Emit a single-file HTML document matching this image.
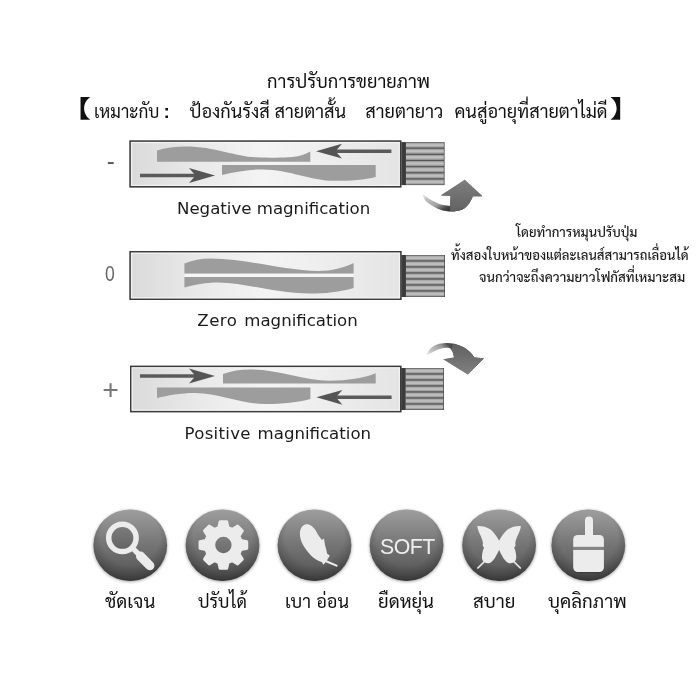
<!DOCTYPE html>
<html lang="th"><head><meta charset="utf-8"><title>การปรับการขยายภาพ</title>
<style>
html,body{margin:0;padding:0;background:#fff}
body{width:700px;height:700px;position:relative;overflow:hidden;font-family:"Liberation Sans","Sarabun","Noto Sans Thai","Loma",sans-serif;color:#111}
.t{position:absolute;white-space:nowrap;line-height:1;margin:0;transform:translateZ(0)}
.th{font-family:"Liberation Sans","Sarabun","Noto Sans Thai","Loma",sans-serif}
.cj{font-family:"Liberation Sans","Noto Sans CJK SC","Sarabun",sans-serif}
.en{font-family:"DejaVu Sans","Liberation Sans",sans-serif;color:#1a1a1a;font-size:16.6px}
.lat{font-family:"Liberation Sans",sans-serif}
.sym{font-family:"Liberation Sans",sans-serif;color:#555}
.lab{font-size:18.6px;top:593px}
.p{font-size:14px;font-weight:500;color:#1a1a1a;transform:scaleX(.937);transform-origin:0 0}
</style></head><body>
<svg width="700" height="700" viewBox="0 0 700 700" style="position:absolute;left:0;top:0">
<defs>
<linearGradient id="boxg" x1="0" y1="0" x2="1" y2="0">
<stop offset="0" stop-color="#dadada"/><stop offset=".25" stop-color="#e9e9e9"/><stop offset=".5" stop-color="#f4f4f4"/><stop offset=".8" stop-color="#ebebeb"/><stop offset="1" stop-color="#e4e4e4"/>
</linearGradient>
<linearGradient id="ridge" x1="0" y1="0" x2="0" y2="1">
<stop offset="0" stop-color="#8c8c8c"/><stop offset=".3" stop-color="#b8b8b8"/><stop offset=".55" stop-color="#c2c2c2"/><stop offset=".85" stop-color="#9c9c9c"/><stop offset="1" stop-color="#7c7c7c"/>
</linearGradient>
<linearGradient id="circ" x1="0" y1="0" x2="0" y2="1">
<stop offset="0" stop-color="#9e9e9e"/><stop offset=".5" stop-color="#747474"/><stop offset="1" stop-color="#525252"/>
</linearGradient>
<radialGradient id="rim" cx=".5" cy=".38" r=".66">
<stop offset="0" stop-color="#000" stop-opacity="0"/><stop offset=".6" stop-color="#000" stop-opacity="0"/><stop offset=".8" stop-color="#000" stop-opacity=".17"/><stop offset="1" stop-color="#000" stop-opacity=".42"/>
</radialGradient>
<linearGradient id="ca1" gradientUnits="userSpaceOnUse" x1="428" y1="187" x2="445" y2="214">
<stop offset="0" stop-color="#fff"/><stop offset=".1" stop-color="#f2f2f2"/><stop offset=".3" stop-color="#c0c0c0"/><stop offset=".62" stop-color="#a0a0a0"/><stop offset=".84" stop-color="#4c4c4c"/><stop offset="1" stop-color="#333"/>
</linearGradient>
<linearGradient id="ca3" gradientUnits="userSpaceOnUse" x1="428" y1="362" x2="450" y2="340">
<stop offset="0" stop-color="#fff"/><stop offset=".1" stop-color="#f4f4f4"/><stop offset=".3" stop-color="#c8c8c8"/><stop offset=".66" stop-color="#9a9a9a"/><stop offset=".86" stop-color="#4c4c4c"/><stop offset="1" stop-color="#444"/>
</linearGradient>
<linearGradient id="hd" x1="0" y1="0" x2="0" y2="1"><stop offset="0" stop-color="#7e7e7e"/><stop offset="1" stop-color="#626262"/></linearGradient>
<linearGradient id="hd3" x1="0" y1="0" x2="0" y2="1"><stop offset="0" stop-color="#606060"/><stop offset="1" stop-color="#808080"/></linearGradient>
<filter id="sh" x="-20%" y="-20%" width="140%" height="140%"><feGaussianBlur stdDeviation="1.6"/></filter>
<filter id="soft" x="-10%" y="-10%" width="120%" height="120%"><feGaussianBlur stdDeviation="0.45"/></filter>
<filter id="soft3" x="-5%" y="-5%" width="110%" height="110%"><feGaussianBlur stdDeviation="0.55"/></filter>
<filter id="soft2" x="-10%" y="-20%" width="120%" height="140%"><feGaussianBlur stdDeviation="0.3"/></filter>
</defs>
<g filter="url(#soft)">
<rect x="130.1" y="141.1" width="270.6" height="45.7" fill="url(#boxg)" stroke="#3a3a3a" stroke-width="1.6"/><rect x="131.5" y="142.5" width="267.8" height="42.9" fill="none" stroke="#f6f6f6" stroke-width="1.2" opacity=".8"/>
<path d="M157 161.7 V150.5 C165 147.5 175 146.4 186 146.4 C215 146.4 235 156.6 256 157.2 C270 157.8 285 157.8 292 157 C300 156 306 154 310.3 151.4 V161.7 Z" fill="#9d9d9d"/>
<path d="M222 165 H375.7 V177 C365 180 350 180.8 335 180.8 C310 180.8 290 169.4 262 169.4 C248 169.4 235 172 222 175 Z" fill="#9d9d9d"/>
<path d="M140.0 173.8 H196.5 V177.2 H140.0 Z" fill="#5a5a5a"/><path d="M215.0 175.5 L189.0 168.1 L195.5 175.5 L189.0 182.9 Z" fill="#555"/>
<path d="M391.4 149.4 H334.5 V152.9 H391.4 Z" fill="#5a5a5a"/><path d="M316.0 151.2 L342.0 143.8 L335.5 151.2 L342.0 158.6 Z" fill="#555"/>
<g><rect x="401.4" y="142.1" width="4.6" height="43.0" fill="#3a3a3a"/><rect x="405.6" y="142.1" width="39.0" height="43.0" fill="#505050"/><rect x="406.0" y="142.55" width="37.8" height="5.24" fill="url(#ridge)"/><rect x="406.0" y="148.69" width="37.8" height="5.24" fill="url(#ridge)"/><rect x="406.0" y="154.84" width="37.8" height="5.24" fill="url(#ridge)"/><rect x="406.0" y="160.98" width="37.8" height="5.24" fill="url(#ridge)"/><rect x="406.0" y="167.12" width="37.8" height="5.24" fill="url(#ridge)"/><rect x="406.0" y="173.26" width="37.8" height="5.24" fill="url(#ridge)"/><rect x="406.0" y="179.41" width="37.8" height="5.24" fill="url(#ridge)"/></g>
<rect x="130.1" y="251.8" width="270.8" height="47.4" fill="url(#boxg)" stroke="#3a3a3a" stroke-width="1.6"/><rect x="131.5" y="253.2" width="268.0" height="44.6" fill="none" stroke="#f6f6f6" stroke-width="1.2" opacity=".8"/>
<path d="M184.4 273.7 V263.6 C192 260.5 201 258.6 211 258.6 C245 258.6 285 270.6 318 271 C332 271 344 267.5 353.6 263 V273.7 Z" fill="#9d9d9d"/>
<path d="M184.4 277 H353.6 V288 C340 292 325 293.6 310 293.6 C275 293.6 245 282.4 218 282.4 C205 282.4 195 284.5 184.4 287.5 Z" fill="#9d9d9d"/>
<rect x="184.4" y="273.7" width="169.2" height="3.3" fill="#f6f6f6"/>
<g><rect x="401.4" y="255.0" width="4.6" height="42.0" fill="#3a3a3a"/><rect x="405.6" y="255.0" width="39.4" height="42.0" fill="#505050"/><rect x="406.0" y="255.45" width="38.2" height="5.10" fill="url(#ridge)"/><rect x="406.0" y="261.45" width="38.2" height="5.10" fill="url(#ridge)"/><rect x="406.0" y="267.45" width="38.2" height="5.10" fill="url(#ridge)"/><rect x="406.0" y="273.45" width="38.2" height="5.10" fill="url(#ridge)"/><rect x="406.0" y="279.45" width="38.2" height="5.10" fill="url(#ridge)"/><rect x="406.0" y="285.45" width="38.2" height="5.10" fill="url(#ridge)"/><rect x="406.0" y="291.45" width="38.2" height="5.10" fill="url(#ridge)"/></g>
<rect x="130.8" y="366.4" width="270.0" height="45.2" fill="url(#boxg)" stroke="#3a3a3a" stroke-width="1.6"/><rect x="132.2" y="367.8" width="267.2" height="42.4" fill="none" stroke="#f6f6f6" stroke-width="1.2" opacity=".8"/>
<path d="M223 383.6 V374 C232 371 240 369.6 250 369.6 C280 369.6 303 380.6 330 380.8 C347 380.8 364 378 375.7 373.3 V383.6 Z" fill="#9d9d9d"/>
<path d="M157 387.4 H310.4 V399 C298 402.5 283 404 266 404 C240 404 220 393 195 393 C180 393 168 395.5 157 398 Z" fill="#9d9d9d"/>
<path d="M140.0 374.2 H196.5 V377.8 H140.0 Z" fill="#5a5a5a"/><path d="M215.0 376.0 L189.0 368.6 L195.5 376.0 L189.0 383.4 Z" fill="#555"/>
<path d="M391.6 395.6 H334.9 V399.1 H391.6 Z" fill="#5a5a5a"/><path d="M316.4 397.3 L342.4 389.9 L335.9 397.3 L342.4 404.7 Z" fill="#555"/>
<g><rect x="401.2" y="368.0" width="4.6" height="42.0" fill="#3a3a3a"/><rect x="405.4" y="368.0" width="38.6" height="42.0" fill="#505050"/><rect x="405.8" y="368.45" width="37.4" height="5.10" fill="url(#ridge)"/><rect x="405.8" y="374.45" width="37.4" height="5.10" fill="url(#ridge)"/><rect x="405.8" y="380.45" width="37.4" height="5.10" fill="url(#ridge)"/><rect x="405.8" y="386.45" width="37.4" height="5.10" fill="url(#ridge)"/><rect x="405.8" y="392.45" width="37.4" height="5.10" fill="url(#ridge)"/><rect x="405.8" y="398.45" width="37.4" height="5.10" fill="url(#ridge)"/><rect x="405.8" y="404.45" width="37.4" height="5.10" fill="url(#ridge)"/></g>
</g>
<g filter="url(#soft)">
<path d="M422.0 193.6 C422.52 194.72 423.72 198.47 425.10 200.30 C426.48 202.13 428.30 203.25 430.30 204.60 C432.30 205.95 434.53 207.33 437.10 208.40 C439.67 209.47 442.83 210.50 445.70 211.00 C448.57 211.50 451.43 211.68 454.30 211.40 C457.17 211.12 460.47 210.58 462.90 209.30 C465.33 208.02 467.40 205.48 468.90 203.70 C470.40 201.92 471.28 199.85 471.90 198.60 C472.52 197.35 472.48 196.60 472.60 196.20 L482.3 196.2 L464.8 179.8 L440.6 195.6 L450.4 196 L450 205.9 C448.85 205.75 445.25 205.50 443.10 205.00 C440.95 204.50 439.10 203.75 437.10 202.90 C435.10 202.05 432.95 200.98 431.10 199.90 C429.25 198.82 427.52 197.45 426.00 196.40 C424.48 195.35 422.67 194.07 422.00 193.60Z" fill="url(#ca1)"/>
<path d="M450 205.9 L450.4 196 L440.6 195.6 L464.8 179.8 L482.3 196.2 L472.6 196.2 C472.48 196.60 472.52 197.35 471.90 198.60 C471.28 199.85 470.40 201.92 468.90 203.70 C467.40 205.48 465.33 208.02 462.90 209.30 C460.47 210.58 455.73 211.05 454.30 211.40 L450.2 211.3 Z" fill="url(#hd)"/>
<path d="M426.0 356.5 C426.67 355.25 428.17 351.00 430.00 349.00 C431.83 347.00 434.33 345.50 437.00 344.50 C439.67 343.50 443.00 343.08 446.00 343.00 C449.00 342.92 452.17 343.33 455.00 344.00 C457.83 344.67 460.50 345.67 463.00 347.00 C465.50 348.33 468.08 350.25 470.00 352.00 C471.92 353.75 473.75 356.58 474.50 357.50 L484 358.2 L467.8 374.5 L443.2 359.3 L454 357.5 C453.83 356.75 453.42 354.25 453.00 353.00 C452.58 351.75 452.17 350.83 451.50 350.00 C450.83 349.17 450.25 348.33 449.00 348.00 C447.75 347.67 446.00 347.67 444.00 348.00 C442.00 348.33 439.33 349.08 437.00 350.00 C434.67 350.92 431.83 352.42 430.00 353.50 C428.17 354.58 426.67 356.00 426.00 356.50Z" fill="url(#ca3)"/>
<path d="M451.5 350 L453 353 L454 357.5 L443.2 359.3 L467.8 374.5 L484 358.2 L474.5 357.5 C473.75 356.58 471.92 353.75 470.00 352.00 C468.08 350.25 465.50 348.33 463.00 347.00 C460.50 345.67 456.33 344.50 455.00 344.00 L453 343.6 Z" fill="url(#hd3)"/>
</g>
<g filter="url(#soft3)">
<ellipse cx="130.2" cy="546.1" rx="37.1" ry="36.0" fill="#000" opacity=".35" filter="url(#sh)"/>
<ellipse cx="130.25" cy="545.15" rx="36.85" ry="35.75" fill="url(#circ)"/>
<ellipse cx="130.25" cy="545.15" rx="36.85" ry="35.75" fill="url(#rim)"/>
<ellipse cx="222.5" cy="546.1" rx="37.1" ry="36.0" fill="#000" opacity=".35" filter="url(#sh)"/>
<ellipse cx="222.50" cy="545.15" rx="36.85" ry="35.75" fill="url(#circ)"/>
<ellipse cx="222.50" cy="545.15" rx="36.85" ry="35.75" fill="url(#rim)"/>
<ellipse cx="314.5" cy="546.1" rx="37.1" ry="36.0" fill="#000" opacity=".35" filter="url(#sh)"/>
<ellipse cx="314.50" cy="545.15" rx="36.85" ry="35.75" fill="url(#circ)"/>
<ellipse cx="314.50" cy="545.15" rx="36.85" ry="35.75" fill="url(#rim)"/>
<ellipse cx="406.6" cy="546.1" rx="37.1" ry="36.0" fill="#000" opacity=".35" filter="url(#sh)"/>
<ellipse cx="406.55" cy="545.15" rx="36.85" ry="35.75" fill="url(#circ)"/>
<ellipse cx="406.55" cy="545.15" rx="36.85" ry="35.75" fill="url(#rim)"/>
<ellipse cx="499.1" cy="546.1" rx="37.1" ry="36.0" fill="#000" opacity=".35" filter="url(#sh)"/>
<ellipse cx="499.10" cy="545.15" rx="36.85" ry="35.75" fill="url(#circ)"/>
<ellipse cx="499.10" cy="545.15" rx="36.85" ry="35.75" fill="url(#rim)"/>
<ellipse cx="588.3" cy="546.1" rx="37.1" ry="36.0" fill="#000" opacity=".35" filter="url(#sh)"/>
<ellipse cx="588.30" cy="545.15" rx="36.85" ry="35.75" fill="url(#circ)"/>
<ellipse cx="588.30" cy="545.15" rx="36.85" ry="35.75" fill="url(#rim)"/>
</g>
<g filter="url(#soft)">
<circle cx="122.4" cy="537.9" r="13.7" fill="rgba(0,0,0,.1)" stroke="#ececec" stroke-width="5.5"/>
<path d="M132.5 548 L139 554.6" stroke="#ececec" stroke-width="5.2" fill="none"/>
<path d="M140.6 556.2 L149.8 565.6" stroke="#ececec" stroke-width="9.2" stroke-linecap="round" fill="none"/>
<path d="M218.60 527.45 L219.95 521.45 L226.85 521.45 L228.20 527.45 L232.42 529.19 L237.62 525.91 L242.49 530.78 L239.21 535.98 L240.95 540.20 L246.95 541.55 L246.95 548.45 L240.95 549.80 L239.21 554.02 L242.49 559.22 L237.62 564.09 L232.42 560.81 L228.20 562.55 L226.85 568.55 L219.95 568.55 L218.60 562.55 L214.38 560.81 L209.18 564.09 L204.31 559.22 L207.59 554.02 L205.85 549.80 L199.85 548.45 L199.85 541.55 L205.85 540.20 L207.59 535.98 L204.31 530.78 L209.18 525.91 L214.38 529.19Z M232.9 545 a9.5 9.5 0 1 0 -19 0 a9.5 9.5 0 1 0 19 0Z" fill="#ececec" fill-rule="evenodd" stroke="#ececec" stroke-width="2.6" stroke-linejoin="round"/>
<path d="M305.80 524.30 C304.23 524.62 302.48 525.97 301.50 527.40 C300.52 528.83 300.03 530.93 299.90 532.90 C299.77 534.87 300.12 537.10 300.70 539.20 C301.28 541.30 302.22 543.40 303.40 545.50 C304.58 547.60 306.22 549.83 307.80 551.80 C309.38 553.77 311.13 555.80 312.90 557.30 C314.67 558.80 316.75 559.98 318.40 560.80 C320.05 561.62 321.53 562.08 322.80 562.20 C324.07 562.32 325.17 562.12 326.00 561.50 C326.83 560.88 327.57 559.60 327.80 558.50 C328.03 557.40 327.67 556.42 327.40 554.90 C327.13 553.38 326.65 551.10 326.20 549.40 C325.75 547.70 325.40 546.23 324.70 544.70 C324.00 543.17 323.05 541.77 322.00 540.20 C320.95 538.63 319.53 537.03 318.40 535.30 C317.27 533.57 316.45 531.43 315.20 529.80 C313.95 528.17 312.47 526.42 310.90 525.50 C309.33 524.58 307.37 523.98 305.80 524.30Z" fill="#ececec"/>
<path d="M321 540.6 L323.9 538.6 L325.2 546Z M326.8 553.4 L329.8 555.4 L327.6 559.4Z M321.3 561.2 L323.5 564.8 L325.8 561.8Z" fill="#ececec"/>
<path d="M325.5 561 L336.6 565.6" stroke="#ececec" stroke-width="2.1" stroke-linecap="round" fill="none"/>
<path d="M499.1 540.7 C497.5 537.5 494 532.5 490.6 529.6 C486.5 526.8 481.5 525.8 477.3 526.1 C477.5 529 479 532.5 479.9 534.3 C481 536.5 482.5 540 482.9 542.9 L482.7 545.9 L484.1 547.6 C483 549.5 482.3 553 482.0 555.7 C481.8 558 482.2 560.5 483.5 561.6 C485 563.2 487.5 563.5 489.7 563.0 C492 562.3 494.5 559 495.7 556.6 C497 554 498.4 551.5 499.1 549.7 Z" fill="#ececec"/><path d="M485 561 L477.9 568" stroke="#ececec" stroke-width="1.7" stroke-linecap="round" fill="none"/>
<g transform="translate(998.2 0) scale(-1 1)"><path d="M499.1 540.7 C497.5 537.5 494 532.5 490.6 529.6 C486.5 526.8 481.5 525.8 477.3 526.1 C477.5 529 479 532.5 479.9 534.3 C481 536.5 482.5 540 482.9 542.9 L482.7 545.9 L484.1 547.6 C483 549.5 482.3 553 482.0 555.7 C481.8 558 482.2 560.5 483.5 561.6 C485 563.2 487.5 563.5 489.7 563.0 C492 562.3 494.5 559 495.7 556.6 C497 554 498.4 551.5 499.1 549.7 Z" fill="#ececec"/><path d="M485 561 L477.9 568" stroke="#ececec" stroke-width="1.7" stroke-linecap="round" fill="none"/></g>
<rect x="498.3" y="540.5" width="1.6" height="9.4" fill="#ececec"/>
<path d="M585 535.5 V520.4 a4 4 0 0 1 8 0 V535.5 Z" fill="#ececec"/>
<path d="M573.2 547 V539.5 a4.5 4.5 0 0 1 4.5 -4.5 H599.4 a4.5 4.5 0 0 1 4.5 4.5 V547 Z" fill="#ececec"/>
<rect x="573.2" y="546.8" width="30.7" height="3.4" fill="#858585"/>
<path d="M573.4 566 V568.7 a4.5 4.5 0 0 0 4.5 4.5 H599.2 a4.5 4.5 0 0 0 4.5 -4.5 V566 Z" fill="#2e2e2e" opacity=".55"/>
<path d="M573.2 550 H603.9 V567.5 a4.5 4.5 0 0 1 -4.5 4.5 H577.7 a4.5 4.5 0 0 1 -4.5 -4.5 Z" fill="#ececec"/>
</g>
<g filter="url(#soft2)"><text x="407.4" y="553.9" text-anchor="middle" font-family="Liberation Sans, sans-serif" font-size="21.3" letter-spacing="-0.45" fill="#efefef" textLength="54.6" lengthAdjust="spacing">SOFT</text></g>
</svg>
<div class="t th" id="title" style="left:267px;top:72.5px;font-size:18.3px">การปรับการขยายภาพ</div>
<div class="t cj" id="lb" style="left:66.5px;top:97px;font-size:23.8px;font-weight:900;transform:scaleX(1.25);transform-origin:100% 50%">【</div>
<div class="t th" id="w1" style="left:93.5px;top:103px;font-size:18.15px;transform:scaleX(.95);transform-origin:0 0">เหมาะกับ</div>
<div class="t cj" id="w1c" style="left:163.5px;top:102px;font-size:19px;font-weight:700">:</div>
<div class="t th" id="w2" style="left:189.5px;top:103px;font-size:18.15px">ป้องกันรังสี</div>
<div class="t th" id="w3" style="left:274.5px;top:103px;font-size:18.15px">สายตาสั้น</div>
<div class="t th" id="w4" style="left:365.3px;top:103px;font-size:18.15px">สายตายาว</div>
<div class="t th" id="w5" style="left:454.4px;top:103px;font-size:18.15px">คนสู่อายุที่สายตาไม่ดี</div>
<div class="t cj" id="rb" style="left:609.8px;top:97px;font-size:23.8px;font-weight:900;transform:scaleX(1.25);transform-origin:0 50%">】</div>

<div class="t sym" id="s1" style="left:106.8px;top:148.9px;font-size:24px;color:#555">-</div>
<div class="t sym" id="s2" style="left:104.9px;top:262.6px;font-size:22px;transform:scaleX(.8);transform-origin:0 0;color:#666">0</div>
<div class="t sym" id="s3" style="left:102.3px;top:375.3px;font-size:28.5px;color:#777">+</div>

<div class="t en" id="e1" style="left:177px;top:200.5px">Negative magnification</div>
<div class="t en" id="e2" style="left:197.3px;top:313.4px;word-spacing:1.5px"><span style="letter-spacing:.5px">Zero</span> magnification</div>
<div class="t en" id="e3" style="left:184.5px;top:425.6px;word-spacing:1.4px"><span style="letter-spacing:.3px">Positive</span> magnification</div>

<div class="t th p" id="p1" style="left:516px;top:225px">โดยทำการหมุนปรับปุ่ม</div>
<div class="t th p" id="p2" style="left:451px;top:247.7px">ทั้งสองใบหน้าของแต่ละเลนส์สามารถเลื่อนได้</div>
<div class="t th p" id="p3" style="left:478.6px;top:270.3px;transform:scaleX(.948)">จนกว่าจะถึงความยาวโฟกัสที่เหมาะสม</div>


<div class="t th lab" id="l1" style="left:105px">ชัดเจน</div>
<div class="t th lab" id="l2" style="left:198px;transform:scaleX(.95);transform-origin:0 0">ปรับได้</div>
<div class="t th lab" id="l3" style="left:285px;transform:scaleX(.975);transform-origin:0 0">เบา อ่อน</div>
<div class="t th lab" id="l4" style="left:378px">ยืดหยุ่น</div>
<div class="t th lab" id="l5" style="left:473px">สบาย</div>
<div class="t th lab" id="l6" style="left:548px">บุคลิกภาพ</div>
</body></html>
